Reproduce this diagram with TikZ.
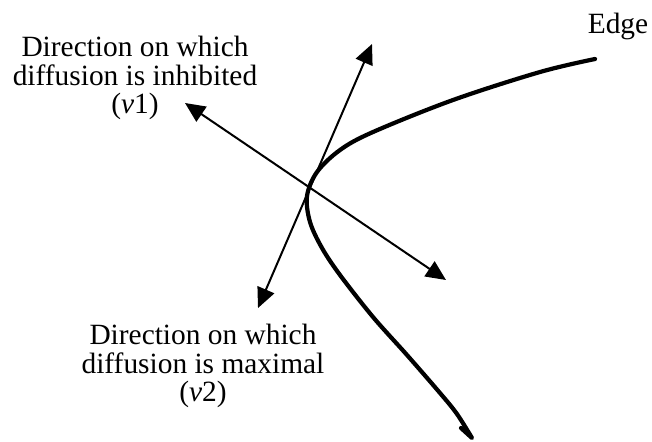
\documentclass[tikz,border=0pt]{standalone}
\usepackage{fontspec}
\setmainfont{Liberation Serif}
\usetikzlibrary{arrows.meta}

\begin{document}
\begin{tikzpicture}[x=0.5pt,y=-0.5pt,
  lbl/.style={font=\fontsize{14.7}{14.3}\selectfont,inner sep=0pt,align=center},
  dir/.style={line width=1pt,{Triangle[length=10pt,width=9pt]}-{Triangle[length=10pt,width=9pt]}},
  edgeline/.style={line width=2.1pt,line join=round,line cap=round}]
\useasboundingbox (0,0) rectangle (652,441);

% labels
\node[lbl] (inh) at (135,78) {Direction on which\\diffusion is inhibited\\(\textit{v}1)};
\node[lbl] (max) at (203,366) {Direction on which\\diffusion is maximal\\(\textit{v}2)};
\node[lbl,anchor=base] (edgelbl) at (618,33) {Edge};

% eigenvector directions
\coordinate (v1a) at (185,103);
\coordinate (v1b) at (446,280);
\coordinate (v2a) at (372,44);
\coordinate (v2b) at (258,308);
\draw[dir] (v1a) -- (v1b);
\draw[dir] (v2a) -- (v2b);

% the edge
\draw[edgeline] plot[smooth,tension=0.55] coordinates {(595,59) (540,72) (453,100) (373,132)
  (340,150) (317,172) (307,196) (310,222) (322,248) (340,275) (373,317) (407,355) (440,393)
  (457,414) (472,438)} -- (461,428);
\end{tikzpicture}
\end{document}
